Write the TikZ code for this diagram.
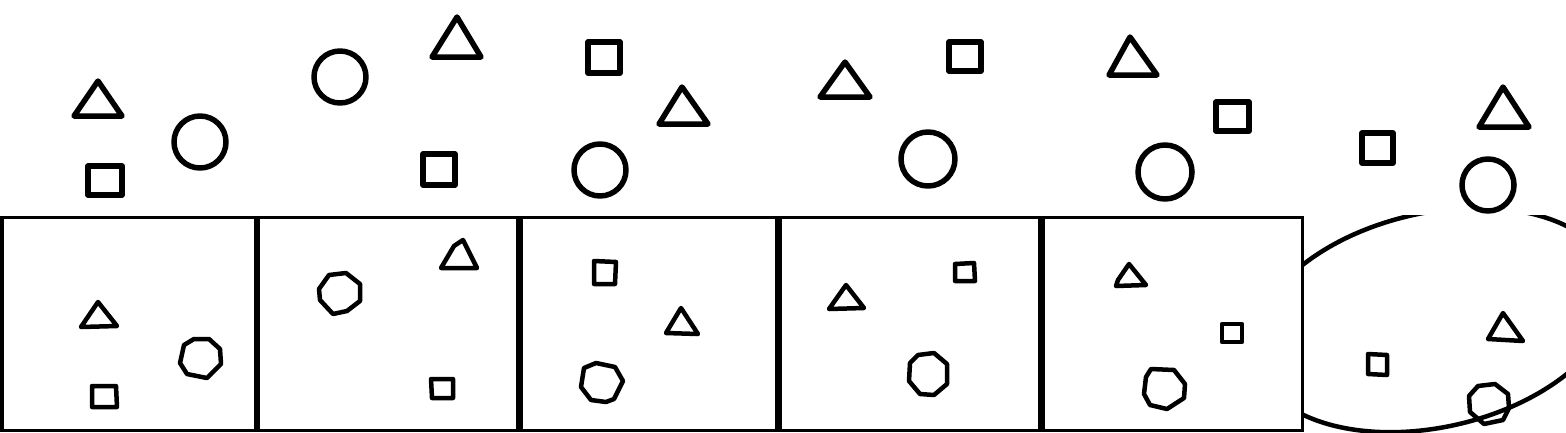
\documentclass[tikz,border=0pt]{standalone}
\usepackage{tikz}
\usetikzlibrary{positioning}

\begin{document}
\begin{tikzpicture}[x=1pt,y=-1pt,
    haut/.style={line width=5.5pt, line join=round},
    bas/.style={line width=4.5pt, line join=round},
    boite/.style={line width=3.5pt, fill=white}]
    \useasboundingbox (0,0) rectangle (1566,432);
    % Les formes du haut
    \draw[haut] (98,81) -- (74,116) -- (122,116) -- cycle;
    \draw[haut] (88,166) rectangle (122,195);
    \draw[haut] (200,142) circle (26);
    \draw[haut] (340,77) circle (26);
    \draw[haut] (457,17) -- (432,57) -- (481,57) -- cycle;
    \draw[haut] (423,154) rectangle (455,185);
    \draw[haut] (588,42) rectangle (620,73);
    \draw[haut] (682,87) -- (659,124) -- (708,124) -- cycle;
    \draw[haut] (600,170) circle (26);
    \draw[haut] (845,62) -- (820,97) -- (870,97) -- cycle;
    \draw[haut] (949,42) rectangle (981,71);
    \draw[haut] (928,159) circle (27);
    \draw[haut] (1130,37) -- (1109,75) -- (1157,75) -- cycle;
    \draw[haut] (1216,102) rectangle (1249,131);
    \draw[haut] (1165,172) circle (27);
    \draw[haut] (1362,133) rectangle (1393,163);
    \draw[haut] (1503,87) -- (1479,127) -- (1529,127) -- cycle;
    \draw[haut] (1488,185) circle (26);
    % L'ellipse, coupee en haut
    \begin{scope}
        \clip (1303,215) rectangle (1566,432);
        \draw[line width=4.5pt, rotate around={13:(1434,320)}] (1434,320) ellipse [x radius=184, y radius=107];
    \end{scope}
    % Les boites
    \draw[boite] (1.75,217.5) rectangle (255.5,430.25);
    \draw[boite] (258.5,217.5) rectangle (518,430.25);
    \draw[boite] (521.5,217.5) rectangle (776.5,430.25);
    \draw[boite] (780,217.5) rectangle (1040,430.25);
    \draw[boite] (1043.5,217.5) rectangle (1302.5,430.25);
    % Boite 1
    \draw[bas] (98,302) -- (81,327) -- (117,326) -- cycle;
    \draw[bas] (92,386) -- (116,386) -- (117,407) -- (92,407) -- cycle;
    \draw[bas] (194,339) -- (209,339) -- (220,349) -- (221,364) -- (207,378) -- (187,374) -- (180,363) -- (184,345) -- cycle;
    % Boite 2
    \draw[bas] (329,275) -- (346,273) -- (360,284) -- (360,301) -- (347,311) -- (333,314) -- (320,300) -- (319,289) -- cycle;
    \draw[bas] (441,268) -- (454,246) -- (463,240) -- (477,268) -- cycle;
    \draw[bas] (431,379) -- (453,379) -- (453,398) -- (432,398) -- cycle;
    % Boite 3
    \draw[bas] (594,261) -- (616,262) -- (615,284) -- (594,284) -- cycle;
    \draw[bas] (681,308) -- (666,333) -- (698,334) -- cycle;
    \draw[bas] (596,363) -- (615,367) -- (623,381) -- (614,399) -- (606,402) -- (591,400) -- (581,387) -- (584,368) -- cycle;
    % Boite 4
    \draw[bas] (846,285) -- (829,309) -- (864,308) -- cycle;
    \draw[bas] (955,264) -- (974,263) -- (975,281) -- (955,281) -- cycle;
    \draw[bas] (918,355) -- (934,353) -- (947,364) -- (947,384) -- (934,395) -- (920,394) -- (909,381) -- (910,363) -- cycle;
    % Boite 5
    \draw[bas] (1129,264) -- (1118,280) -- (1116,286) -- (1146,285) -- cycle;
    \draw[bas] (1222,324) rectangle (1242,342);
    \draw[bas] (1151,369) -- (1174,370) -- (1185,384) -- (1184,398) -- (1167,409) -- (1150,405) -- (1144,394) -- (1146,377) -- cycle;
    % Dans l'ellipse
    \draw[bas] (1368,354) -- (1387,355) -- (1387,375) -- (1368,374) -- cycle;
    \draw[bas] (1503,313) -- (1488,339) -- (1523,341) -- cycle;
    \draw[bas] (1478,386) -- (1495,384) -- (1508,394) -- (1509,408) -- (1503,420) -- (1484,424) -- (1470,412) -- (1469,396) -- cycle;
\end{tikzpicture}
\end{document}
